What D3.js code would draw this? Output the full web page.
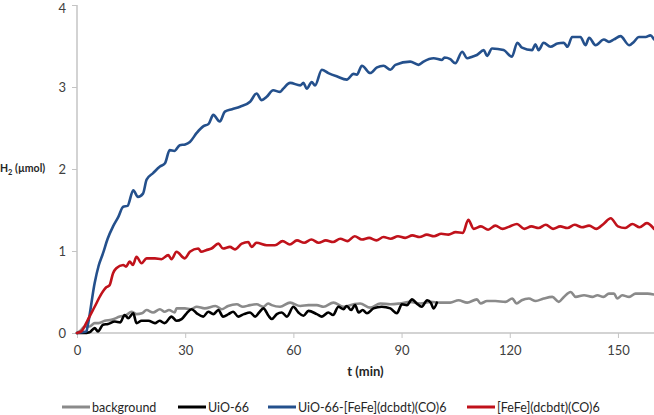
<!DOCTYPE html>
<html><head><meta charset="utf-8">
<script src="https://cdn.jsdelivr.net/npm/d3@7"></script>
<style>body{margin:0;background:#fff;}svg{display:block;font-family:Lato,"Open Sans",sans-serif;}</style>
</head><body><svg id="c" width="654" height="415"></svg>
<script>
const seriesNames = ["background", "UiO-66", "UiO-66-[FeFe](dcbdt)(CO)6", "[FeFe](dcbdt)(CO)6"];
const seriesColors = ["#8a8a8a", "#000000", "#24508c", "#c0121b"];
const xTicks = [0, 30, 60, 90, 120, 150];
const yTicks = [0, 1, 2, 3, 4];

const bgT = [0,1,2.1,3.5,4.9,6,7.7,9.5,11.9,13.7,15.1,16.5,18,19.3,21.1,23,24.3,25.5,27.1,27.6,29.9,31.5,33.2,35.4,38.4,40.1,41.9,44.3,46,48,49.8,51.7,53,54,56.3,59.1,61.9,64.2,66.5,68.4,71.1,73.9,76.7,78.5,81.3,84.1,86.9,89.5,92.4,95.2,98,100.7,103.5,105.8,108.2,110.9,111.9,113.7,116,118.8,120.7,121.9,123.3,125.3,127.2,129.4,131.8,133.6,135,136.9,138.3,140.6,142.9,144.3,146,147.5,148.9,149.8,151.2,153.1,154.9,156.3,158.2,160];
const bgV = [0,0.03,0.08,0.08,0.12,0.12,0.15,0.16,0.20,0.22,0.26,0.23,0.24,0.28,0.25,0.29,0.26,0.28,0.25,0.30,0.30,0.29,0.32,0.30,0.33,0.29,0.33,0.35,0.32,0.34,0.35,0.32,0.36,0.34,0.32,0.37,0.33,0.34,0.34,0.32,0.37,0.32,0.35,0.36,0.31,0.36,0.35,0.36,0.38,0.36,0.38,0.37,0.37,0.40,0.37,0.41,0.36,0.39,0.39,0.38,0.42,0.36,0.40,0.42,0.39,0.42,0.44,0.38,0.44,0.50,0.44,0.46,0.44,0.46,0.44,0.48,0.48,0.42,0.46,0.44,0.48,0.48,0.48,0.47];

const uioT = [0,1.8,3.5,4.9,5.8,7.2,8.6,10.5,12,13.2,14.2,15.6,16.5,17.9,19.8,21.6,22.9,24.3,26.2,27.6,29,30.4,31.8,33.2,35,36.4,37.8,39.2,40.5,42,43.3,44.7,46.3,48,49.4,50.5,51.7,53.1,54,55.4,56.8,58.2,60,61.4,62.8,64.2,66.5,67.9,69.7,71,72.5,73.9,74.8,76,77.1,78.1,79.2,80.4,82.2,84.5,86.9,88.7,90.1,91.5,92.9,94.2,95.6,97.1,98.1,98.9,99.8];
const uioV = [0,0,0.01,0.06,0.02,0.10,0.11,0.14,0.13,0.22,0.18,0.24,0.12,0.15,0.15,0.12,0.15,0.12,0.20,0.15,0.17,0.24,0.29,0.24,0.20,0.26,0.23,0.28,0.20,0.23,0.26,0.20,0.23,0.25,0.20,0.25,0.30,0.21,0.17,0.23,0.25,0.20,0.32,0.25,0.21,0.27,0.23,0.20,0.25,0.22,0.32,0.29,0.33,0.28,0.34,0.25,0.28,0.24,0.30,0.32,0.30,0.24,0.35,0.34,0.41,0.36,0.32,0.40,0.37,0.30,0.37];

const mofT = [0,1.5,2.6,3.1,4.9,6,7.2,8.5,10,11.5,12.8,14,15.6,16.9,18.3,19.3,21.1,23,24.4,25.7,27,28.5,30,31.3,33.2,35,36.5,37.8,39.6,41,43,45.2,48,49.8,51.2,52.6,54.4,56.3,57.2,59.1,61.9,62.8,63.7,65.1,66,67.9,69.7,72,74.8,76.7,77.6,79,81.3,83.2,85,86.9,88.3,92.4,94.7,96.1,98.9,101.2,101.9,103.5,104.9,106.8,108.2,109.6,110.9,112.8,113.7,115.1,118.3,120.6,122.1,123.4,126.2,127.1,128,129.4,131.3,133.2,135,136,137.3,139.6,141,142,143.8,146.1,147.5,148.9,150.7,153.1,154.4,155.8,157.7,159,160];
const mofV = [0,0.01,0.02,0.12,0.61,0.82,0.97,1.15,1.30,1.42,1.54,1.55,1.74,1.66,1.70,1.87,1.95,2.03,2.07,2.23,2.22,2.29,2.30,2.33,2.44,2.52,2.55,2.66,2.58,2.70,2.73,2.76,2.82,2.92,2.84,2.88,2.96,2.94,2.98,3.05,3.02,3.05,2.98,3.06,3.02,3.21,3.17,3.13,3.09,3.16,3.15,3.26,3.17,3.24,3.26,3.21,3.27,3.31,3.27,3.31,3.35,3.33,3.36,3.34,3.29,3.43,3.35,3.37,3.39,3.45,3.38,3.47,3.45,3.37,3.54,3.48,3.45,3.52,3.45,3.54,3.49,3.53,3.54,3.49,3.61,3.61,3.51,3.60,3.51,3.58,3.55,3.58,3.62,3.51,3.55,3.61,3.61,3.63,3.58];

const feT = [0,1.2,3,4.9,6.8,8.2,9,10,10.9,12.8,13.6,14.6,15.5,16.5,17.9,19.3,21.6,23.4,25.3,26.2,27.6,29.9,31.3,33.6,34.5,35.8,37.3,39.2,40.5,42.4,43.8,45.7,47.5,48.4,49.8,52.6,54.9,57,59,61,63,65,67,69,71,73,75,77,79,81,83,85,87,89,91,93,95,97,99,101,103,105,107,108.5,110,112,114,116,118,120,122,124,126,128,130,132,134,136,138,140,142,144,146,148,150,152,154,156,158,160];
const feV = [0,0.02,0.16,0.32,0.48,0.56,0.58,0.73,0.79,0.83,0.81,0.87,0.83,0.93,0.85,0.91,0.91,0.90,0.95,0.90,0.99,0.91,0.99,1.03,0.99,1.01,1.03,1.09,1.03,1.05,1.02,1.09,1.11,1.05,1.10,1.07,1.07,1.12,1.08,1.13,1.10,1.14,1.10,1.13,1.11,1.15,1.12,1.18,1.14,1.16,1.13,1.17,1.15,1.18,1.16,1.19,1.17,1.20,1.18,1.21,1.20,1.23,1.22,1.38,1.27,1.30,1.26,1.31,1.27,1.30,1.33,1.27,1.30,1.28,1.32,1.27,1.30,1.28,1.32,1.29,1.31,1.27,1.33,1.40,1.30,1.28,1.33,1.29,1.34,1.27];

const seriesT = [bgT, uioT, mofT, feT];
const seriesV = [bgV, uioV, mofV, feV];

const svg = d3.select("#c");
const L = 77, R = 654, T = 5, B = 333;
const x = d3.scaleLinear().domain([0, 160]).range([L, R]);
const y = d3.scaleLinear().domain([0, 4]).range([B, T]);
const axisColor = "#c4c4c4";

const xa = svg.append("g").attr("transform", `translate(0,${B})`)
  .call(d3.axisBottom(x).tickValues(xTicks).tickFormat(d3.format("d")).tickSize(5).tickPadding(8));
const ya = svg.append("g").attr("transform", `translate(${L},0)`)
  .call(d3.axisLeft(y).tickValues(yTicks).tickFormat(d3.format("d")).tickSize(5).tickPadding(6));
[xa, ya].forEach(a => {
  a.select(".domain").attr("stroke", axisColor).attr("stroke-width", 1.5);
  a.selectAll(".tick line").attr("stroke", axisColor);
  a.selectAll(".tick text").attr("fill", "#404040").style("font-size", "13px").style("font-family", "Lato, 'Open Sans', sans-serif");
});
ya.selectAll(".tick text").filter(d => d === 4).attr("dy", "0.6em");
xa.select(".domain").attr("d", `M${L},0H${R}`);
ya.select(".domain").attr("d", `M0,${B}V${T}`);

const line = d3.line().x(d => x(d[0])).y(d => y(d[1])).curve(d3.curveMonotoneX);
seriesNames.forEach((n, i) => {
  const pts = seriesT[i].map((t, j) => [t, seriesV[i][j]]);
  svg.append("path").datum(pts).attr("d", line).attr("fill", "none")
    .attr("stroke", seriesColors[i]).attr("stroke-width", 2.6)
    .attr("stroke-linejoin", "round").attr("stroke-linecap", "round");
});

svg.append("text").attr("x", (L + R) / 2).attr("y", 376).attr("text-anchor", "middle")
  .attr("font-weight", "bold").attr("font-size", 13).attr("fill", "#262626").text("t (min)");

const yl = svg.append("text").attr("x", 0).attr("y", 172).attr("font-weight", "bold")
  .attr("font-size", 10.5).attr("fill", "#262626");
yl.append("tspan").text("H");
yl.append("tspan").attr("font-size", 7.5).attr("dy", 3).text("2");
yl.append("tspan").attr("dy", -3).text(" (µmol)");

const legX = [62, 178, 268, 467];
const lg = svg.append("g");
seriesNames.forEach((n, i) => {
  lg.append("line").attr("x1", legX[i]).attr("x2", legX[i] + 28).attr("y1", 407).attr("y2", 407)
    .attr("stroke", seriesColors[i]).attr("stroke-width", 3);
  lg.append("text").attr("x", legX[i] + 30).attr("y", 411.5).attr("font-size", 12.5)
    .attr("fill", "#262626").text(n);
});
</script></body></html>
